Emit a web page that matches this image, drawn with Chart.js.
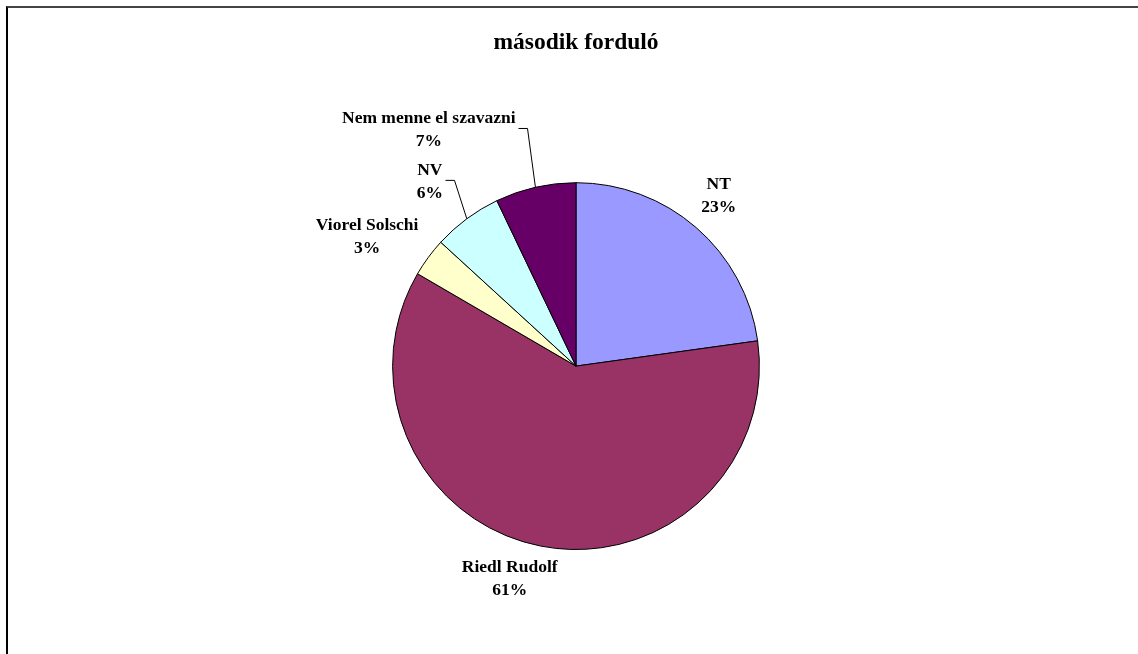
<!DOCTYPE html>
<html>
<head>
<meta charset="utf-8">
<title>második forduló</title>
<script src="https://cdn.jsdelivr.net/npm/chart.js@4/dist/chart.umd.min.js"></script>
<style>
  html, body { margin: 0; padding: 0; background: #fff; }
  .frame {
    position: absolute; left: 6px; top: 6px; width: 1200px; height: 700px;
    border-top: 2px solid #444; border-left: 2px solid #000;
  }
  .wrap { position: absolute; left: 0; top: 0; width: 1138px; height: 654px; }
</style>
</head>
<body>
<div class="frame"></div>
<div class="wrap"><canvas id="myChart"></canvas></div>
<script>
// DATA

var categories = ['NT', 'Riedl Rudolf', 'Viorel Solschi', 'NV', 'Nem menne el szavazni'];
var shares = [22.8, 60.6, 3.4, 6.1, 7.1];
var sliceColors = ['#9999FF', '#993366', '#FFFFCC', '#CCFFFF', '#660066'];

// label placement: [angle from 12 o'clock in degrees, distance as share of radius]
var labelSpots = [[40, 1.21], [197.3, 1.215], [301.8, 1.34], [321.5, 1.28], [328, 1.515]];
// which labels get a leader line back to the slice
var leaders = [false, false, false, true, true];

var labelFont = 'bold 17.5px "Liberation Serif", "Times New Roman", serif';

// LABELS + LEADER LINES

var pieLabels = {
  id: 'pieLabels',
  afterDatasetsDraw: function(chart) {
    var ctx = chart.ctx;
    var arcs = chart.getDatasetMeta(0).data;
    var total = shares.reduce(function(a, b) { return a + b }, 0);
    ctx.save();
    ctx.font = labelFont;
    ctx.fillStyle = '#000';
    ctx.textAlign = 'center';
    ctx.textBaseline = 'middle';
    arcs.forEach(function(arc, i) {
      var r = arc.outerRadius;
      var a = labelSpots[i][0] * Math.PI / 180;
      var cx = arc.x + Math.sin(a) * r * labelSpots[i][1];
      var cy = arc.y - Math.cos(a) * r * labelSpots[i][1];
      var pct = Math.round(shares[i] / total * 100) + '%';
      ctx.fillText(categories[i], cx, cy - 11.5);
      ctx.fillText(pct, cx, cy + 11.5);

      if (leaders[i]) {
        var mid = (arc.startAngle + arc.endAngle) / 2;
        var px = arc.x + Math.cos(mid) * r;
        var py = arc.y + Math.sin(mid) * r;
        var sx = cx + ctx.measureText(categories[i]).width / 2 + 3;
        var sy = cy - 2;
        ctx.beginPath();
        ctx.strokeStyle = '#000';
        ctx.lineWidth = 1;
        ctx.moveTo(sx, sy);
        ctx.lineTo(sx + 9, sy);
        ctx.lineTo(px, py);
        ctx.stroke();
      }
    });
    ctx.restore();
  }
};

// CHART

var ctx = document.getElementById('myChart').getContext('2d');

var chart = new Chart(ctx, {
    type: 'pie',
    data: {
        labels: categories,
        datasets: [{
            data: shares,
            backgroundColor: sliceColors,
            borderColor: '#000',
            borderWidth: 1,
        }]
    },
    options: {
        responsive: true,
        maintainAspectRatio: false,
        animation: false,
        events: [],
        layout: { padding: { top: 6, left: 200, right: 186, bottom: 104 } },
        plugins: {
            legend: { display: false },
            tooltip: { enabled: false },
            title: {
                display: true,
                text: 'második forduló',
                color: '#000',
                font: { family: '"Liberation Serif", "Times New Roman", serif', size: 23.5, weight: 'bold' },
                padding: { top: 23, bottom: 125 }
            }
        }
    },
    plugins: [pieLabels]
});
</script>
</body>
</html>
